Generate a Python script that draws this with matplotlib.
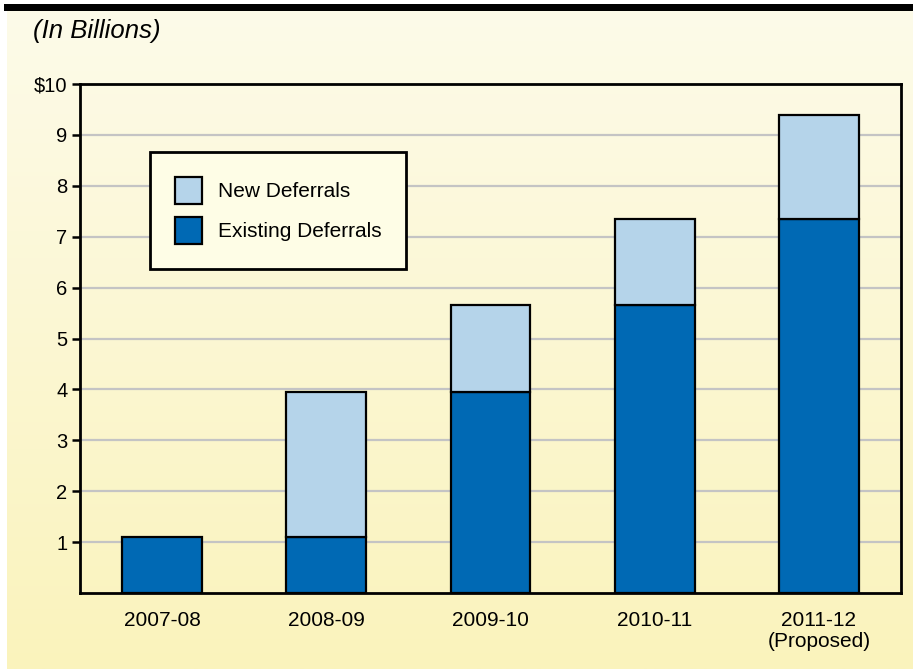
import matplotlib
matplotlib.use("Agg")
import matplotlib.pyplot as plt
import numpy as np
from matplotlib.patches import Patch, Rectangle

plt.rcParams['font.family'] = ['Liberation Sans', 'DejaVu Sans']

years = ["2007-08", "2008-09", "2009-10", "2010-11", "2011-12\n(Proposed)"]
existing = [1.1, 1.1, 3.95, 5.65, 7.35]
new = [0.0, 2.85, 1.7, 1.7, 2.05]
yticks = [1, 2, 3, 4, 5, 6, 7, 8, 9, 10]
ytick_labels = ["1", "2", "3", "4", "5", "6", "7", "8", "9", "$10"]

W, H = 913, 670
fig = plt.figure(figsize=(W / 100, H / 100), dpi=100)
fig.patch.set_facecolor('white')

# background gradient panel
bg = fig.add_axes([0, 0, 1, 1])
bg.set_xlim(0, W)
bg.set_ylim(H, 0)
bg.axis('off')
top_c = np.array([253, 251, 233]) / 255
bot_c = np.array([250, 243, 188]) / 255
t = np.linspace(0, 1, 256)[:, None]
grad = (top_c[None, :] * (1 - t) + bot_c[None, :] * t)[:, None, :]
bg.imshow(grad, extent=(7, W, 669, 11), aspect='auto', interpolation='bilinear')
bg.add_patch(Rectangle((4, 4), W - 4, 7, facecolor='black', edgecolor='none'))
bg.text(33, 31, "(In Billions)", fontsize=18.5, style='italic', va='center', ha='left')

ax = fig.add_axes([80 / W, 1 - 593 / H, (901 - 80) / W, (593 - 84) / H])
ax.set_facecolor('none')
x = np.arange(len(years))
dark = '#0069B4'
light = '#B5D4EA'
bw = 0.485
ax.bar(x, existing, width=bw, color=dark, edgecolor='black', linewidth=1.6, zorder=3)
idx = [i for i in range(len(years)) if new[i] > 0]
ax.bar([x[i] for i in idx], [new[i] for i in idx], bottom=[existing[i] for i in idx],
       width=bw, color=light, edgecolor='black', linewidth=1.6, zorder=3)

ax.set_xlim(-0.5, 4.5)
ax.set_ylim(0, 10)
ax.set_yticks(yticks)
ax.set_yticklabels(ytick_labels, fontsize=14.5)
ax.set_xticks(x)
ax.set_xticklabels(years, fontsize=15, linespacing=1.15, va='top')
ax.tick_params(axis='x', length=0, pad=13)
ax.tick_params(axis='y', length=6, width=1.8, pad=3, direction='out')
for yv in yticks[:-1]:
    ax.axhline(yv, color='#C4C4C4', linewidth=1.6, zorder=1)
for s in ax.spines.values():
    s.set_linewidth(2)
    s.set_color('black')

handles = [Patch(facecolor=light, edgecolor='black', linewidth=1.6, label='New Deferrals'),
           Patch(facecolor=dark, edgecolor='black', linewidth=1.6, label='Existing Deferrals')]
leg = ax.legend(handles=handles, loc='upper left', bbox_to_anchor=(70 / 821, (593 - 152) / 509),
                borderaxespad=0, fontsize=15, frameon=True, fancybox=False,
                handlelength=1.3, handleheight=1.62, handletextpad=0.75, labelspacing=0.6,
                borderpad=1.2)
fr = leg.get_frame()
fr.set_facecolor('#FEFDE6')
fr.set_edgecolor('black')
fr.set_linewidth(2)
fr.set_alpha(1)

fig.savefig('out.png', dpi=100)
